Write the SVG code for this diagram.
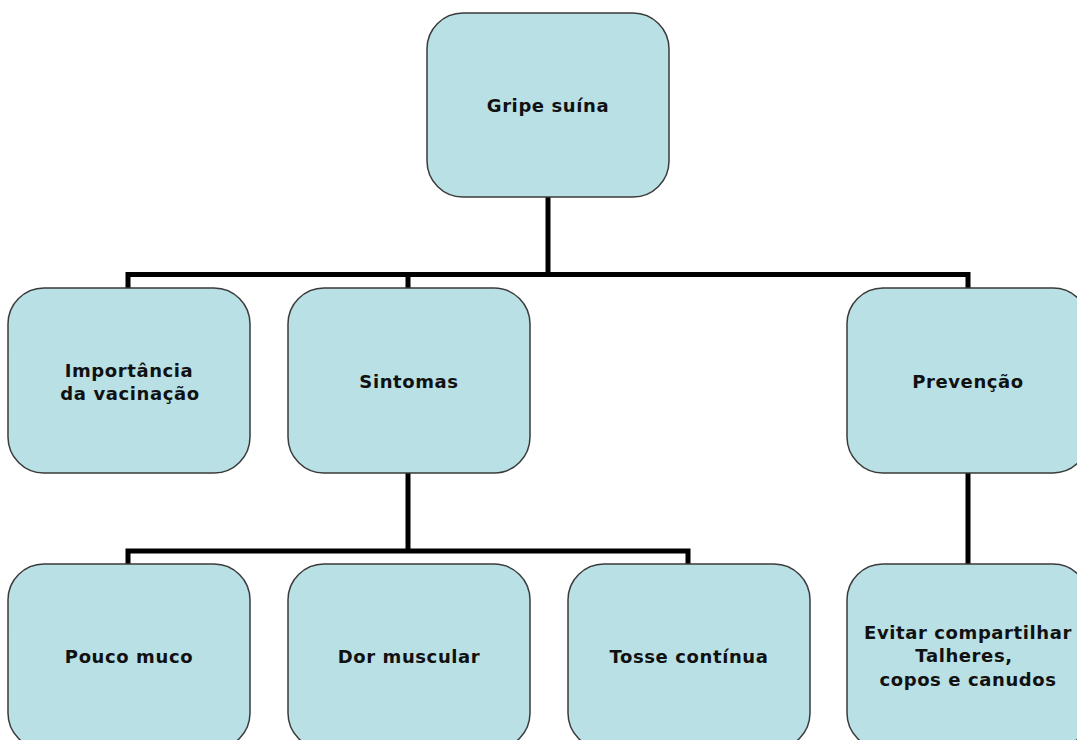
<svg xmlns="http://www.w3.org/2000/svg" width="1077" height="740" viewBox="0 0 1077 740">
  <style>
    .box { fill: #b9e0e4; stroke: #3a3a3a; stroke-width: 1.5; }
    .lbl { font-family: "DejaVu Sans", Verdana, sans-serif; font-weight: bold; font-size: 18px; letter-spacing: 0.6px; fill: #111; text-anchor: middle; }
    .wire { fill: none; stroke: #000; stroke-width: 5; stroke-linejoin: miter; }
  </style>
  <rect width="1077" height="740" fill="#fff"/>

  <!-- connectors -->
  <g id="connectors">
    <path class="wire" d="M548,197 V274.5"/>
    <path class="wire" d="M128,288 V274.5 H968 V288"/>
    <path class="wire" d="M408,274.5 V288"/>
    <path class="wire" d="M408,473 V551"/>
    <path class="wire" d="M128,564 V551 H688 V564"/>
    <path class="wire" d="M968,473 V564"/>
  </g>

  <g id="root">
    <rect class="box" x="427" y="13" width="242" height="184" rx="36"/>
    <text class="lbl" x="548" y="112">Gripe suína</text>
  </g>

  <g id="importancia">
    <rect class="box" x="8" y="288" width="242" height="185" rx="36"/>
    <text class="lbl" x="129" y="377">Importância</text>
    <text class="lbl" x="130" y="400">da vacinação</text>
  </g>

  <g id="sintomas">
    <rect class="box" x="288" y="288" width="242" height="185" rx="36"/>
    <text class="lbl" x="409" y="388">Sintomas</text>
  </g>

  <g id="prevencao">
    <rect class="box" x="847" y="288" width="242" height="185" rx="36"/>
    <text class="lbl" x="968" y="388">Prevenção</text>
  </g>

  <g id="pouco-muco">
    <rect class="box" x="8" y="564" width="242" height="185" rx="36"/>
    <text class="lbl" x="129" y="663">Pouco muco</text>
  </g>

  <g id="dor-muscular">
    <rect class="box" x="288" y="564" width="242" height="185" rx="36"/>
    <text class="lbl" x="409" y="663">Dor muscular</text>
  </g>

  <g id="tosse">
    <rect class="box" x="568" y="564" width="242" height="185" rx="36"/>
    <text class="lbl" x="689" y="663">Tosse contínua</text>
  </g>

  <g id="evitar">
    <rect class="box" x="847" y="564" width="242" height="185" rx="36"/>
    <text class="lbl" x="968" y="639">Evitar compartilhar</text>
    <text class="lbl" x="964" y="662">Talheres,</text>
    <text class="lbl" x="968" y="686">copos e canudos</text>
  </g>
</svg>
